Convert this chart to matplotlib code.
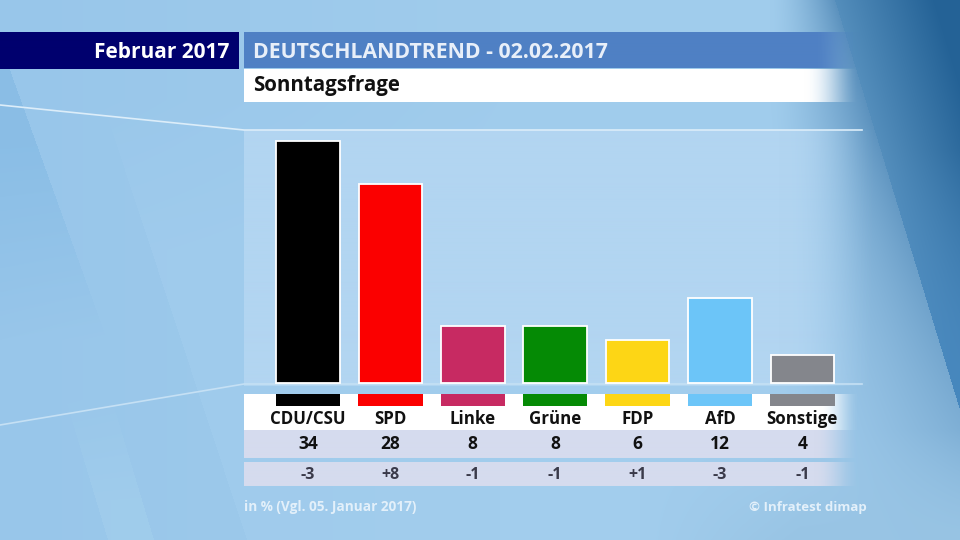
import numpy as np
import matplotlib
matplotlib.use('Agg')
import matplotlib.pyplot as plt

parties = ['CDU/CSU', 'SPD', 'Linke', 'Grüne', 'FDP', 'AfD', 'Sonstige']
values = [34, 28, 8, 8, 6, 12, 4]
changes = ['-3', '+8', '-1', '-1', '+1', '-3', '-1']
bar_colors = ['#000000', '#fb0000', '#c72a62', '#058a05', '#fdd615', '#6cc5f8', '#84868c']

plt.rcParams['font.family'] = ['Open Sans', 'DejaVu Sans']

W, H = 960, 540
fig = plt.figure(figsize=(W / 100, H / 100), dpi=100)

# background layer, works in pixels with y going down
bg = fig.add_axes([0, 0, 1, 1])
bg.set_xlim(0, W)
bg.set_ylim(H, 0)
bg.axis('off')


def blend(a, b, t):
    t = np.clip(t, 0, 1)[..., None]
    return np.array(a) * (1 - t) + np.array(b) * t


X, Y = np.meshgrid(np.arange(W) + 0.5, np.arange(H) + 0.5)

img = blend((152, 198, 234), (160, 204, 236), X / 500)

# soft slanted shapes on the left
wedge = X < 10 + (Y - 70) * 0.36
img = blend(img, (132, 186, 228), wedge * np.clip((340 - Y) / 200, 0, 1) * 0.7)
mid = X > 125 + (Y - 170) * 0.33
img = blend(img, (164, 206, 238), mid * np.clip((Y - 100) / 150, 0, 1) * 0.5)
stripe = (X > 72 + (Y - 420) * 0.3) & (X < 118 + (Y - 420) * 0.3)
img = blend(img, (162, 206, 236), stripe * np.clip((Y - 400) / 100, 0, 1) * 0.7)

# darkens on the way to the strip on the right
edge = 835 + Y * 0.305
shade = np.clip((X - 770) / (edge - 770), 0, 1) ** 1.5
shade = shade * np.clip(1 - (Y - 120) / 650, 0.2, 1)
img = blend(img, (92, 146, 190), shade)
img = blend(img, (152, 196, 228), np.clip((Y - 430) / 110, 0, 1) * np.clip((X - 640) / 160, 0, 1))

# dark strip
dark = X > edge
dark_col = blend((84, 142, 188), (36, 98, 150), (X - edge) / 100)
dark_col = blend(dark_col, (70, 135, 190), (Y - 150) / 250)
img[dark] = dark_col[dark]

bg.imshow(img.astype(np.uint8), extent=(0, W, H, 0), aspect='auto', zorder=0)


def band(x0, x1, y0, y1, color, fade_from=None, z=2):
    # horizontal band, optionally fading out to the right
    xs = np.arange(x0, x1) + 0.5
    alpha = np.ones_like(xs, dtype=float)
    if fade_from is not None:
        s = np.clip((x1 - xs) / (x1 - fade_from), 0, 1)
        alpha = s * s * (3 - 2 * s)
    rgba = np.zeros((1, len(xs), 4))
    rgba[..., :3] = matplotlib.colors.to_rgb(color)
    rgba[..., 3] = alpha
    bg.imshow(rgba, extent=(x0, x1, y1, y0), aspect='auto', zorder=z, interpolation='bilinear')


# chart panel and table rows
band(244, 880, 130, 386, '#b2d5f1', fade_from=780, z=1)
band(244, 860, 394, 430, '#ffffff', fade_from=820)
band(244, 860, 430, 458, '#d5dbee', fade_from=815)
band(244, 860, 462, 486, '#d5dbee', fade_from=815)

# header
band(0, 239, 32, 69, '#00006e')
band(244, 862, 32, 68, '#4f80c4', fade_from=815)
band(244, 860, 69, 102, '#ffffff', fade_from=805)
bg.set_xlim(0, W)
bg.set_ylim(H, 0)

# thin light lines
bg.plot([0, 244, 862], [105, 130, 130], color='#dcedf9', lw=1.2, zorder=3)
bg.plot([0, 244, 862], [425, 384, 384], color='#c5e0f4', lw=1.2, zorder=3)

bg.text(229, 52, 'Februar 2017', color='white', fontsize=15, fontweight='bold', ha='right', va='center', zorder=5)
bg.text(253, 52, 'DEUTSCHLANDTREND - 02.02.2017', color='#e8eff9', fontsize=15.3, fontweight='bold', ha='left', va='center', zorder=5)
bg.text(253, 86, 'Sonntagsfrage', color='#111111', fontsize=14.8, fontweight='bold', ha='left', va='center', zorder=5)
bg.text(244, 507, 'in % (Vgl. 05. Januar 2017)', color='#e3f0fa', fontsize=9.8, fontweight='bold', ha='left', va='center', zorder=5)
bg.text(867, 507, '© Infratest dimap', color='#e3f0fa', fontsize=9.5, fontweight='bold', ha='right', va='center', zorder=5)

# bars, 82.4 px per category and 7.12 px per percent point
x_step = 82.4
x_first = 308
y_unit = 7.12
base_px = 383
left_px, right_px, top_px, bot_px = 244, 860, 130, 406

ax = fig.add_axes([left_px / W, 1 - bot_px / H, (right_px - left_px) / W, (bot_px - top_px) / H])
ax.patch.set_alpha(0)
ax.axis('off')
ax.set_xlim((left_px - x_first) / x_step, (right_px - x_first) / x_step)
ax.set_ylim((base_px - bot_px) / y_unit, (base_px - top_px) / y_unit)

pos = np.arange(len(parties))
ax.bar(pos, values, width=0.77, color=bar_colors, edgecolor='white', linewidth=1.3, zorder=4)

# colour stubs above the names
stub_top = (base_px - 394) / y_unit
stub_bottom = (base_px - 406) / y_unit
ax.bar(pos, stub_top - stub_bottom, bottom=stub_bottom, width=0.78, color=bar_colors, linewidth=0, zorder=4)

for i, p in enumerate(pos):
    xp = x_first + p * x_step
    bg.text(xp, 419, parties[i], color='#111111', fontsize=12.2, fontweight='bold', ha='center', va='center', zorder=5)
    bg.text(xp, 444, str(values[i]), color='#111111', fontsize=12.5, fontweight='bold', ha='center', va='center', zorder=5)
    bg.text(xp, 475, changes[i], color='#3a3a4a', fontsize=11.5, fontweight='bold', ha='center', va='center', zorder=5)

fig.savefig('out.png', dpi=100)
